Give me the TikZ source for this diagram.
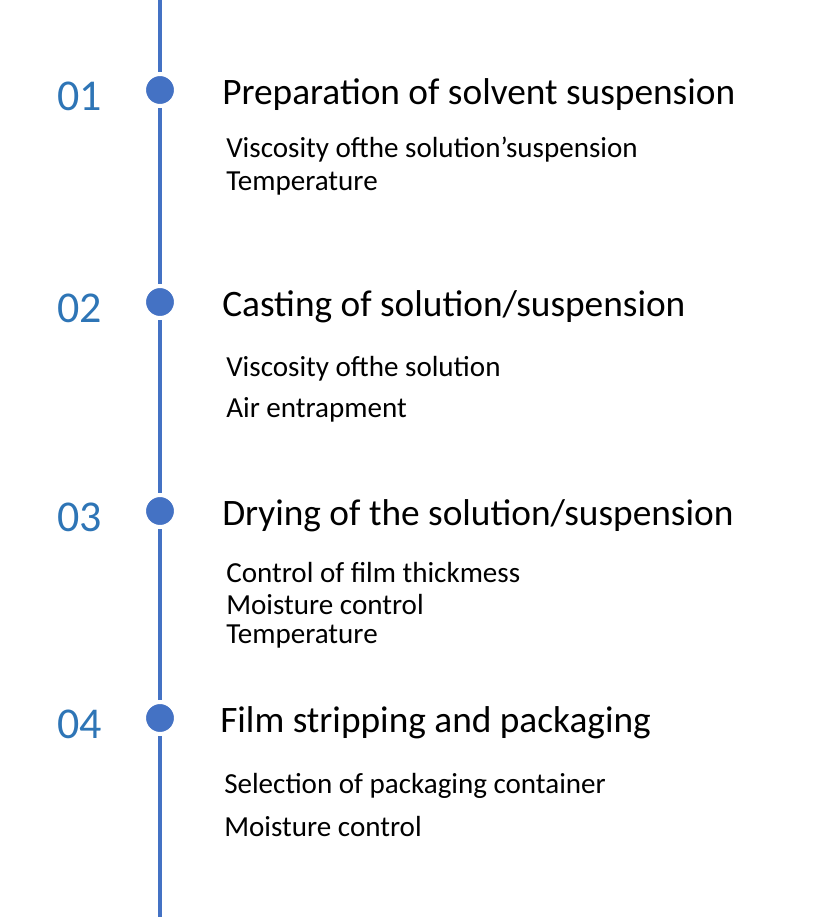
\documentclass[tikz,border=0pt]{standalone}
\usepackage{fontspec}
\setmainfont{Carlito}
\definecolor{numblue}{RGB}{46,117,182}
\definecolor{lineblue}{RGB}{68,114,196}
\begin{document}
\begin{tikzpicture}[
        x=0.75pt, y=-0.75pt,
        stepnum/.style={anchor=west, text=numblue, font=\fontsize{33}{36}\selectfont, inner sep=0pt},
        steptitle/.style={anchor=west, font=\fontsize{28}{32}\selectfont, inner sep=0pt},
        stepitem/.style={anchor=west, font=\fontsize{21.8}{25}\selectfont, inner sep=0pt},
        stepdot/.style={circle, fill=lineblue, draw=white, line width=3pt, minimum size=24, inner sep=0pt},
    ]
    \useasboundingbox (0,0) rectangle (830,918);

    \coordinate (top) at (160,0);
    \coordinate (bottom) at (160,917);
    \draw[lineblue, line width=2.5pt] (top) -- (bottom);

    \foreach \n/\y/\t/\tx in {01/90/{Preparation of solvent suspension}/222,
                             02/302/{Casting of solution/suspension}/222,
                             03/511/{Drying of the solution/suspension}/222,
                             04/718/{Film stripping and packaging}/220}
    {
        \node[stepdot] (dot\n) at (160,\y) {};
        \node[stepnum] (num\n) at (57,\y+6) {\n};
        \node[steptitle] (title\n) at (\tx,\y+5) {\t};
    }

    \node[stepitem] (item1a) at (226,150) {Viscosity ofthe solution\symbol{39}suspension};
    \node[stepitem] (item1b) at (226,184) {Temperature};
    \node[stepitem] (item2a) at (226,369) {Viscosity ofthe solution};
    \node[stepitem] (item2b) at (226,410) {Air entrapment};
    \node[stepitem] (item3a) at (226,573) {Control of film thickmess};
    \node[stepitem] (item3b) at (226,605) {Moisture control};
    \node[stepitem] (item3c) at (226,637) {Temperature};
    \node[stepitem] (item4a) at (224,786) {Selection of packaging container};
    \node[stepitem] (item4b) at (224,827) {Moisture control};
\end{tikzpicture}
\end{document}
